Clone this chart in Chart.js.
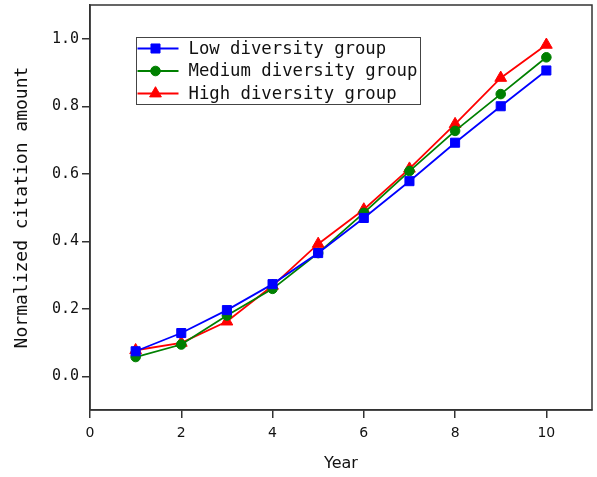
<!DOCTYPE html>
<html>
<head>
<meta charset="utf-8">
<script src="https://cdn.jsdelivr.net/npm/chart.js@4.4.1/dist/chart.umd.min.js"></script>
<style>
  html, body { margin: 0; padding: 0; background: #fff; }
  #wrap { width: 597px; height: 477px; }
</style>
</head>
<body>
<div id="wrap"><canvas id="plot" width="597" height="477"></canvas></div>
<script>
// data
const years = [1, 2, 3, 4, 5, 6, 7, 8, 9, 10];
const lowDiv = [0.074, 0.128, 0.196, 0.273, 0.365, 0.469, 0.578, 0.692, 0.800, 0.906];
const medDiv = [0.057, 0.094, 0.180, 0.259, 0.365, 0.484, 0.608, 0.727, 0.836, 0.945];
const highDiv = [0.077, 0.099, 0.162, 0.268, 0.392, 0.494, 0.615, 0.747, 0.884, 0.982];
const xTicks = [0, 2, 4, 6, 8, 10];
const yTicks = [0.0, 0.2, 0.4, 0.6, 0.8, 1.0];

const axisColor = '#333';

function pts(vals) {
    return years.map((x, i) => ({ x: x, y: vals[i] }));
}

function series(label, vals, color, style, radius) {
    return {
        label: label,
        data: pts(vals),
        borderColor: color,
        backgroundColor: color,
        borderWidth: 1.8,
        pointStyle: style,
        pointRadius: radius,
        pointHoverRadius: radius,
        pointBorderWidth: 1,
        pointBorderColor: color,
        pointBackgroundColor: color,
        tension: 0
    };
}

// full frame around the plot area
const frame = {
    id: 'frame',
    beforeDatasetsDraw(chart) {
        const a = chart.chartArea, c = chart.ctx;
        c.save();
        c.strokeStyle = axisColor;
        c.lineWidth = 1.5;
        c.strokeRect(a.left, a.top, a.right - a.left, a.bottom - a.top);
        c.restore();
    }
};

// boxed legend inside the plot
const boxLegend = {
    id: 'boxLegend',
    afterDraw(chart) {
        const c = chart.ctx;
        const bx = 136.5, by = 37.5, bw = 284, bh = 67;
        const rowH = 22.5;
        c.save();
        c.fillStyle = '#fff';
        c.fillRect(bx, by, bw, bh);
        c.strokeStyle = '#444';
        c.lineWidth = 1;
        c.strokeRect(bx, by, bw, bh);
        c.font = '17.3px "DejaVu Sans Mono"';
        c.textBaseline = 'middle';
        c.textAlign = 'left';
        chart.data.datasets.forEach((ds, i) => {
            const y = by + 11 + i * rowH;
            c.strokeStyle = ds.borderColor;
            c.lineWidth = 1.8;
            c.beginPath();
            c.moveTo(bx + 1, y);
            c.lineTo(bx + 42, y);
            c.stroke();
            c.fillStyle = ds.backgroundColor;
            c.strokeStyle = ds.borderColor;
            c.lineWidth = 1;
            Chart.helpers.drawPoint(c, {
                pointStyle: ds.pointStyle, radius: ds.pointRadius, rotation: 0, borderWidth: 1
            }, bx + 19, y);
            c.fillStyle = '#111';
            c.fillText(ds.label, bx + 52, y + 1);
        });
        c.restore();
    }
};

const ctx = document.getElementById('plot');

var chart = new Chart(ctx, {
    type: 'line',
    data: {
        datasets: [
            series('Low diversity group', lowDiv, '#0000ff', 'rect', 6.4),
            series('Medium diversity group', medDiv, '#008000', 'circle', 4.8),
            series('High diversity group', highDiv, '#ff0000', 'triangle', 6.8)
        ]
    },
    options: {
        responsive: false,
        animation: false,
        events: [],
        layout: { autoPadding: false, padding: { left: 0, right: 5, top: 5, bottom: 0 } },
        plugins: {
            legend: { display: false },
            tooltip: { enabled: false }
        },
        scales: {
            x: {
                type: 'linear',
                min: 0,
                max: 11,
                afterBuildTicks: (s) => { s.ticks = xTicks.map(v => ({ value: v })); },
                afterFit: (s) => { s.height = 67; s.paddingLeft = 0; s.paddingRight = 0; },
                grid: {
                    drawOnChartArea: false,
                    drawTicks: true,
                    tickLength: 8,
                    color: axisColor,
                    lineWidth: 1.5
                },
                border: { display: true, color: axisColor, width: 1.5 },
                ticks: {
                    color: '#111',
                    padding: 7,
                    font: { family: '"DejaVu Sans"', size: 14 },
                    maxRotation: 0,
                    callback: (v) => String(v)
                },
                title: {
                    display: true,
                    text: 'Year',
                    color: '#111',
                    font: { family: '"DejaVu Sans"', size: 16 },
                    padding: { top: 0, bottom: 4 }
                }
            },
            y: {
                type: 'linear',
                min: -0.1,
                max: 1.1,
                afterBuildTicks: (s) => { s.ticks = yTicks.map(v => ({ value: v })); },
                afterFit: (s) => { s.width = 90; s.paddingTop = 0; s.paddingBottom = 0; },
                grid: {
                    drawOnChartArea: false,
                    drawTicks: true,
                    tickLength: 8,
                    color: axisColor,
                    lineWidth: 1.5
                },
                border: { display: true, color: axisColor, width: 1.5 },
                ticks: {
                    color: '#111',
                    padding: 3,
                    font: { family: '"DejaVu Sans Mono"', size: 15 },
                    callback: (v) => Number(v).toFixed(1)
                },
                title: {
                    display: true,
                    text: 'Normalized citation amount',
                    color: '#111',
                    font: { family: '"DejaVu Sans Mono"', size: 18 },
                    padding: { top: 12, bottom: 0 }
                }
            }
        }
    },
    plugins: [frame, boxLegend]
});
</script>
</body>
</html>
